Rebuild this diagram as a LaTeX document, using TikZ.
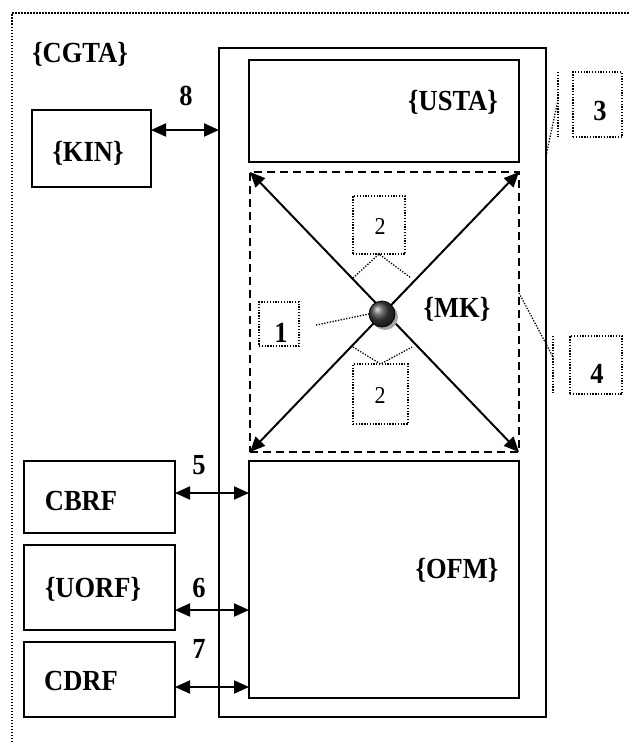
\documentclass[tikz,border=0pt]{standalone}
\usepackage{fontspec}
\setmainfont{Liberation Serif}
\usetikzlibrary{arrows.meta,shadings}
\newcommand{\tallt}[1]{\scalebox{1}[1.1]{#1}}
\begin{document}
\begin{tikzpicture}[x=1pt,y=-1pt,
  box/.style={draw, line width=1.5pt, inner sep=0pt, outer sep=0pt, anchor=north west},
  dashbox/.style={draw, line width=2pt, dash pattern=on 8pt off 5pt, inner sep=0pt, outer sep=0pt, anchor=north west},
  dotbox/.style={draw, line width=1.3pt, dash pattern=on 1.3pt off 1.5pt, inner sep=0pt, outer sep=0pt, anchor=north west},
  dotline/.style={line width=1.3pt, dash pattern=on 1.3pt off 1.5pt},
  lbl/.style={font=\fontsize{26.5}{30}\selectfont\bfseries, inner sep=0pt, anchor=base},
  num/.style={font=\fontsize{22}{25}\selectfont, inner sep=0pt, anchor=base},
  biarrow/.style={{Triangle[length=15pt,width=13pt]}-{Triangle[length=15pt,width=13pt]}, line width=2pt},
]
\useasboundingbox (0,0) rectangle (629,742);
% outer dotted border (top and left)
\draw[line width=1.5pt, dash pattern=on 1.5pt off 1.5pt] (12,742) -- (12,13) -- (629,13);
\node[lbl] (cgta) at (80,62) {\tallt{\{CGTA\}}};

% system box
\node[box, minimum width=327pt, minimum height=669pt] (sys) at (219,48) {};
\node[box, minimum width=270pt, minimum height=102pt] (usta) at (249,60) {};
\node[lbl] (ustat) at (453,110) {\tallt{\{USTA\}}};
\node[dashbox, minimum width=269pt, minimum height=280pt] (mk) at (250,172) {};
\node[lbl] (mkt) at (457,317) {\tallt{\{MK\}}};
\node[box, minimum width=270pt, minimum height=237pt] (ofm) at (249,461) {};
\node[lbl] (ofmt) at (457,578) {\tallt{\{OFM\}}};

% left boxes
\node[box, minimum width=119pt, minimum height=77pt] (kin) at (32,110) {};
\node[lbl] (kint) at (88,161) {\tallt{\{KIN\}}};
\node[box, minimum width=151pt, minimum height=72pt] (cbrf) at (24,461) {};
\node[lbl] (cbrft) at (81,510) {\tallt{CBRF}};
\node[box, minimum width=151pt, minimum height=85pt] (uorf) at (24,545) {};
\node[lbl] (uorft) at (93,597) {\tallt{\{UORF\}}};
\node[box, minimum width=151pt, minimum height=75pt] (cdrf) at (24,642) {};
\node[lbl] (cdrft) at (81,690) {\tallt{CDRF}};

% horizontal arrows
\draw[biarrow] (kin.east |- 0,130) -- (sys.west |- 0,130);
\node[lbl] (l8) at (186,105) {\tallt{8}};
\draw[biarrow] (cbrf.east |- 0,493) -- (ofm.west |- 0,493);
\node[lbl] (l5) at (199,474) {\tallt{5}};
\draw[biarrow] (uorf.east |- 0,610) -- (ofm.west |- 0,610);
\node[lbl] (l6) at (199,597) {\tallt{6}};
\draw[biarrow] (cdrf.east |- 0,687) -- (ofm.west |- 0,687);
\node[lbl] (l7) at (199,658) {\tallt{7}};

% diagonals
\draw[biarrow] (mk.north west) -- (mk.south east);
\draw[biarrow] (mk.north east) -- (mk.south west);

% ball
\fill[gray!70] (385,317) circle (13pt);
\shade[ball color=black!75] (382,314) circle (13pt);
\draw[line width=0.8pt] (382,314) circle (13pt);
\node[circle, minimum size=26pt, inner sep=0pt] (ball) at (382,314) {};

% dotted annotation boxes
\node[dotbox, minimum width=40pt, minimum height=44pt] (b1) at (259,302) {};
\node[lbl] (t1) at (281,342) {\tallt{1}};
\node[dotbox, minimum width=52pt, minimum height=58pt] (b2a) at (353,196) {};
\node[num] (t2a) at (380,234) {\tallt{2}};
\node[dotbox, minimum width=55pt, minimum height=60pt] (b2b) at (353,364) {};
\node[num] (t2b) at (380,403) {\tallt{2}};
\node[dotbox, minimum width=49pt, minimum height=65pt] (b3) at (573,72) {};
\node[lbl] (t3) at (600,120) {\tallt{3}};
\node[dotbox, minimum width=52pt, minimum height=58pt] (b4) at (570,336) {};
\node[lbl] (t4) at (597,383) {\tallt{4}};

% dotted connectors
\coordinate (c2al) at (353,278);
\coordinate (c2ar) at (411,278);
\draw[dotline] (c2al) -- (b2a.south) -- (c2ar);
\coordinate (c2bl) at (353,347);
\coordinate (c2br) at (412,347);
\draw[dotline] (c2bl) -- (b2b.north) -- (c2br);
\coordinate (c1) at (316,325);
\draw[dotline] (c1) -- (ball.west);
\coordinate (v3t) at (558,72);
\coordinate (v3b) at (558,137);
\coordinate (v3m) at (558,100);
\draw[dotline] (v3t) -- (v3b);
\draw[dotline] (sys.east |- 0,156) -- (v3m);
\coordinate (v4t) at (553,336);
\coordinate (v4b) at (553,393);
\coordinate (v4m) at (553,357);
\draw[dotline] (v4t) -- (v4b);
\draw[dotline] (mk.east |- 0,293) -- (v4m);
\end{tikzpicture}
\end{document}
